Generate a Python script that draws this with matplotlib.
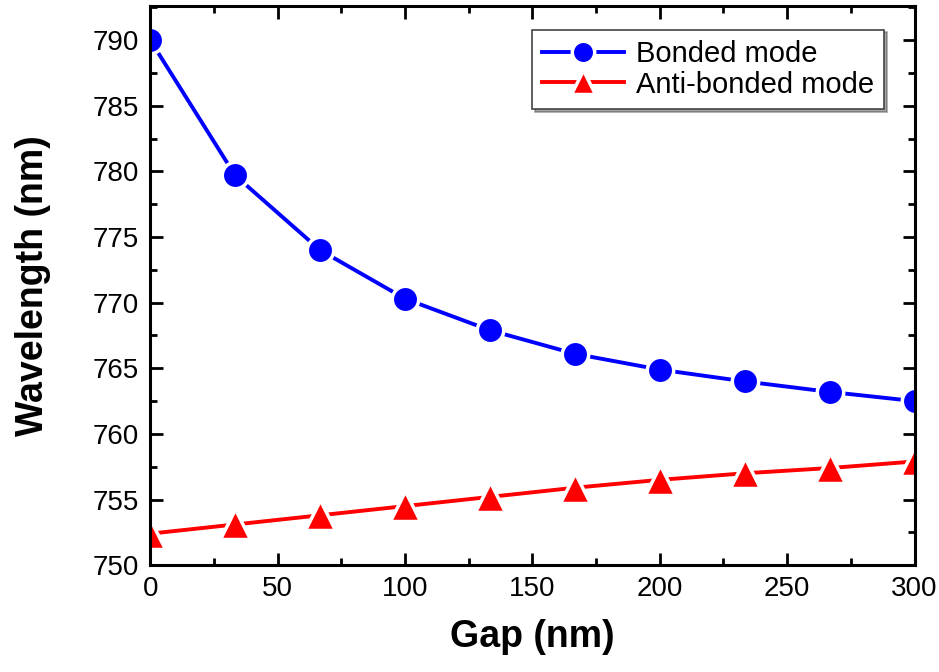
import matplotlib.pyplot as plt
from matplotlib.ticker import MultipleLocator

# Data
gap = [0, 33.3, 66.7, 100, 133.3, 166.7, 200, 233.3, 266.7, 300]
bonded = [790.0, 779.7, 774.0, 770.3, 767.9, 766.1, 764.9, 764.0, 763.2, 762.5]
anti_bonded = [752.4, 753.1, 753.8, 754.5, 755.2, 755.9, 756.5, 757.0, 757.4, 757.9]

plt.rcParams['font.family'] = ['Liberation Sans', 'DejaVu Sans']

fig = plt.figure(figsize=(9.39, 6.72), dpi=100)
ax = fig.add_axes([0.160, 0.159, 0.814, 0.832])

ax.plot(gap, bonded, color='blue', lw=2.8, marker='o', markersize=19,
        markeredgecolor='white', markeredgewidth=2.5, label='Bonded mode')
ax.plot(gap, anti_bonded, color='red', lw=2.8, marker='^', markersize=21,
        markeredgecolor='white', markeredgewidth=2.5, label='Anti-bonded mode')

ax.set_xlim(0, 300)
ax.set_ylim(750, 792.6)
ax.xaxis.set_major_locator(MultipleLocator(50))
ax.xaxis.set_minor_locator(MultipleLocator(25))
ax.yaxis.set_major_locator(MultipleLocator(5))
ax.yaxis.set_minor_locator(MultipleLocator(2.5))

ax.tick_params(which='both', direction='in', top=True, right=True, width=2,
               labelsize=20, pad=8)
ax.tick_params(which='major', length=9)
ax.tick_params(which='minor', length=5)
for s in ax.spines.values():
    s.set_linewidth(2.2)

ax.set_xlabel('Gap (nm)', fontsize=27, fontweight='bold', labelpad=12)
ax.set_ylabel('Wavelength (nm)', fontsize=27, fontweight='bold', labelpad=30)

leg = ax.legend(loc='upper right', bbox_to_anchor=(0.96, 0.958), borderaxespad=0,
                fontsize=21, fancybox=False, shadow=True, framealpha=1,
                borderpad=0.35, handlelength=2.8, handletextpad=0.4,
                labelspacing=0.1, markerscale=0.85)
leg.get_frame().set_edgecolor('#444444')
leg.get_frame().set_linewidth(1.2)

fig.savefig('out.png', dpi=100)
